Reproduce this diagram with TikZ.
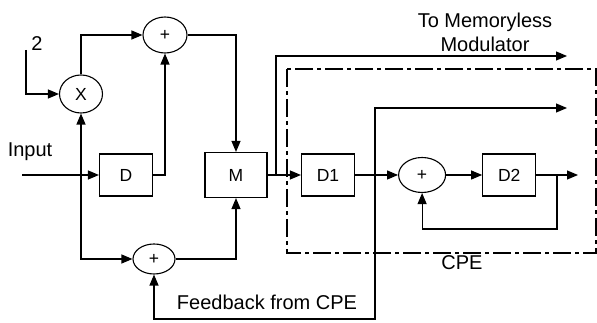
\documentclass[tikz,border=0pt]{standalone}
\usepackage{fontspec}
\setmainfont{Liberation Sans}
\usetikzlibrary{arrows.meta,positioning,shapes.geometric}

\begin{document}
\begin{tikzpicture}[
    x=1pt, y=1pt,
    line width=1.1pt,
    node distance=40pt,
    every node/.style={font=\fontsize{17.5}{20}\selectfont},
    lbl/.style={font=\fontsize{20}{24}\selectfont, inner sep=0pt},
    blk/.style={draw, minimum width=53pt, minimum height=42pt, inner sep=0pt},
    summer/.style={draw, ellipse, minimum width=44pt, minimum height=36pt, inner sep=0pt},
    flow/.style={-{Triangle[length=11pt, width=9pt]}},
    flowboth/.style={{Triangle[length=11pt, width=9pt]}-{Triangle[length=11pt, width=9pt]}},
    cpebox/.style={draw, dash pattern=on 18pt off 4pt on 4pt off 4pt}
]
\useasboundingbox (0,0) rectangle (597,323);
% encoder part
\node[summer, minimum width=43pt, minimum height=38pt] (mul) at (81,229) {X};
\node[summer] (sumA) at (165,288) {+};
\node[blk] (delay) at (126,148) {D};
\node[blk, minimum width=62pt, minimum height=45pt] (mod) at (236,148) {M};
\node[summer, minimum width=42pt, minimum height=30pt] (sumB) at (154,64) {+};
% CPE
\draw[cpebox] (287,254) rectangle (596,70);
\node[blk] (dOne) at (328,148) {D1};
\node[summer, minimum width=47pt, minimum height=35pt, right=43pt of dOne] (sumC) {+};
\node[blk, right=36pt of sumC] (dTwo) {D2};
% free ends
\coordinate (two) at (26,273);
\coordinate (inp) at (22,148);
\coordinate (tap) at (276,148);
\coordinate (outA) at (567,267);
\coordinate (outB) at (567,215);
\coordinate (outC) at (578,148);
\coordinate (fb) at (375,4);
\coordinate (loop) at (557,94);
% labels
\node[lbl] (twolab) at (37,279) {2};
\node[lbl] (inlab) at (30,171) {Input};
\node[lbl] (fblab) at (267,21) {Feedback from CPE};
\node[lbl] (cpelab) at (462,60) {CPE};
\node[lbl, align=center] (modlab) at (485,291) {To Memoryless\\Modulator};
% connections
\draw[flow] (two) |- (mul.west);
\draw[flow] (mul.north) |- (sumA.west);
\draw[flow] (sumA.east) -| (mod.north);
\draw[flow] (inp) -- (delay.west);
\draw[flow] (delay.east) -| (sumA.south);
\draw[flowboth] (mul.south) |- (sumB.west);
\draw[flow] (sumB.east) -| (mod.south);
\draw[flow] (mod.east) -- (dOne.west);
\draw[flow] (tap) |- (outA);
\draw[flow] (dOne.east) -- (sumC.west);
\draw[flow] (sumC.east) -- (dTwo.west);
\draw[flow] (dTwo.east) -- (outC);
\draw[flow] (dTwo.east -| loop) -- (loop) -| (sumC.south);
\draw[flowboth] (sumB.south) |- (fb) |- (outB);
\end{tikzpicture}
\end{document}
